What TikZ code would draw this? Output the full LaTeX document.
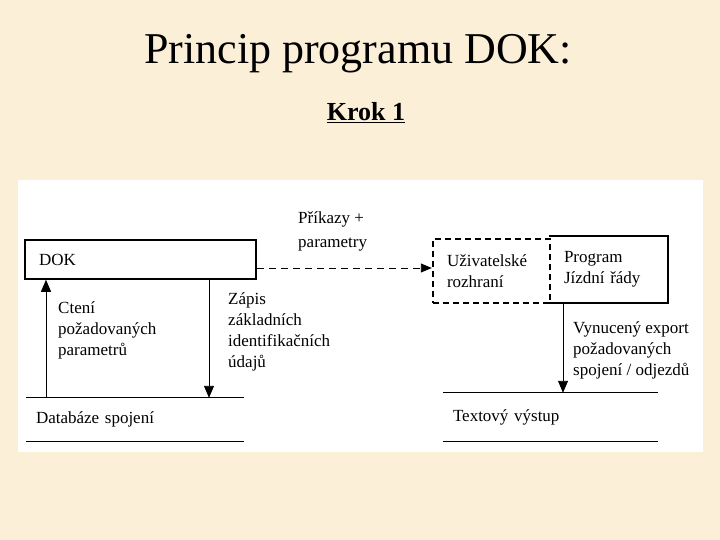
\documentclass[tikz,border=0pt]{standalone}
\usepackage{fontspec}
\setmainfont{Liberation Serif}
\usepackage{xcolor}
\usetikzlibrary{arrows.meta,positioning}
\definecolor{ink}{HTML}{000000}
\definecolor{paper}{HTML}{FBF0D7}
\tikzset{
  box/.style={draw=ink,line width=1.5pt,align=left,inner xsep=14pt,inner ysep=0pt},
  ubox/.style={draw=ink,line width=2.4pt,dash pattern=on 6pt off 4pt,align=left,inner xsep=14pt,inner ysep=0pt},
  store/.style={align=left,inner xsep=10pt,inner ysep=0pt},
  storeline/.style={draw=ink,line width=0.9pt},
  flow/.style={-{Triangle[length=12pt,width=10pt]},line width=0.9pt,draw=ink},
  dflow/.style={-{Triangle[length=11pt,width=9pt]},line width=0.9pt,dash pattern=on 7pt off 5pt,draw=ink},
  lbl/.style={align=left,inner sep=0pt,anchor=north west}
}
\begin{document}
\begin{tikzpicture}[x=1pt,y=-1pt,font=\fontsize{17}{21}\selectfont]
  \fill[paper] (0,0) rectangle (720,540);
  \fill[white] (18,180) rectangle (703,452);
  \node[font=\fontsize{44}{48}\selectfont] (title) at (358,54) {Princip programu DOK:};
  \node[font=\fontsize{26}{30}\selectfont\bfseries] (krok) at (366,113) {\underline{Krok 1}};
  % boxes
  \node[box, minimum width=231pt, minimum height=39pt, text width=203pt] (dok) at (140.5,259.5) {DOK};
  \node[box, draw=none, minimum width=117pt, minimum height=65pt, text width=89pt] (prog) at (608.5,269.5) {Program\\Jízdní řády};
  \draw[ink, line width=2pt] (prog.north west) -- (prog.north east) -- (prog.south east) -- (prog.south west);
  \node[ubox, minimum width=117pt, minimum height=64pt, text width=89pt] (ui) at (491.5,271) {Uživatelské\\rozhraní};
  \node[store, minimum width=218pt, minimum height=43pt, text width=198pt] (db) at (135,419.5) {Databáze spojení};
  \draw[storeline] (db.north west) -- (db.north east) (db.south west) -- (db.south east);
  \node[store, minimum width=215pt, minimum height=48pt, text width=195pt] (out) at (550.5,417) {Textový výstup};
  \draw[storeline] (out.north west) -- (out.north east) (out.south west) -- (out.south east);
  % connectors
  \coordinate (up) at (46,0);
  \coordinate (dn) at (209,0);
  \coordinate (ex) at (563,0);
  \coordinate (cmd) at (0,268);
  \draw[flow] (db.north -| up) -- (dok.south -| up);
  \draw[flow] (dok.south -| dn) -- (db.north -| dn);
  \draw[dflow] (dok.east |- cmd) -- (ui.west |- cmd);
  \draw[flow] (prog.south -| ex) -- (out.north -| ex);
  % labels
  \node[lbl] (cteni) at (58,301) {Ctení\\požadovaných\\parametrů};
  \node[lbl] (zapis) at (228,292) {Zápis\\základních\\identifikačních\\údajů};
  \node[lbl] (prikazy) at (298,211) {Příkazy +\\[3pt]parametry};
  \node[lbl] (export) at (573,321) {Vynucený export\\požadovaných\\spojení / odjezdů};
\end{tikzpicture}
\end{document}
